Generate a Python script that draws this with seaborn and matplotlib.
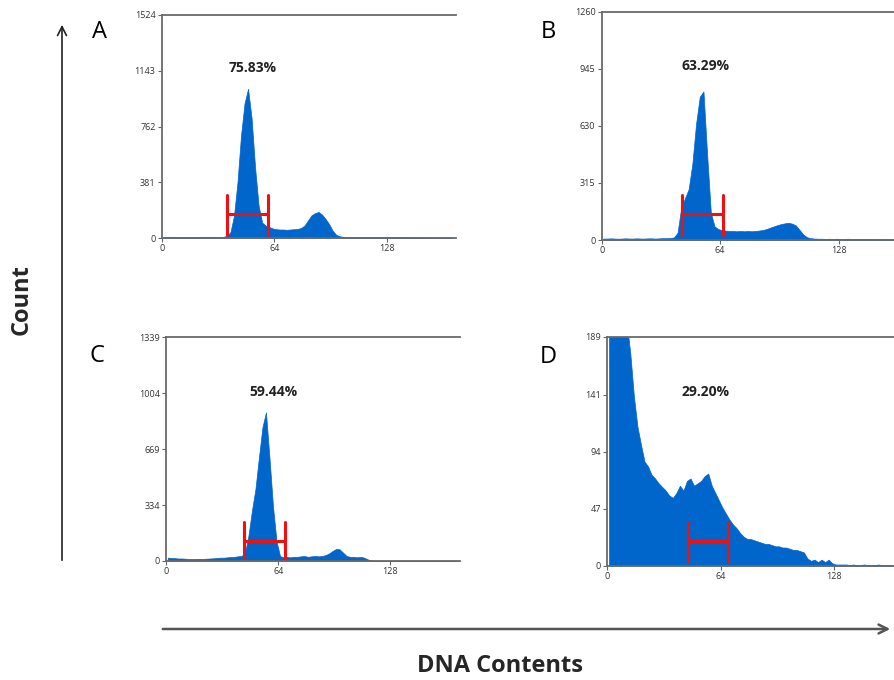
import numpy as np
import pandas as pd
import seaborn as sns
import matplotlib
matplotlib.use('Agg')
import matplotlib.pyplot as plt
from matplotlib.patches import FancyArrowPatch

# Histogram counts per 2-channel bin (bin 0-2, 2-4, ...)
counts_a = [6, 5, 7, 6, 5, 6, 7, 5, 6, 6, 5, 7, 6, 6, 7, 6, 8,
            8, 15, 40, 150, 380, 700, 920, 1020, 820, 480, 220, 105, 85, 75, 65, 60,
            58, 58, 56, 58, 60, 62, 68, 85, 120, 155, 170, 178, 160, 130, 95, 50, 22, 12, 8,
            7, 6, 5, 6, 7, 5, 6, 6, 5, 6, 7, 6, 5, 6, 5, 6, 6, 5, 4, 5, 4, 3, 4, 3, 3, 2,
            3, 2, 2, 2, 2]
counts_b = [8, 8, 9, 8, 7, 8, 9, 8, 8, 9, 8, 8, 9, 9, 8, 9, 10, 10, 11, 14,
            40, 180, 230, 280, 420, 640, 790, 820, 470, 150, 75, 60, 55,
            52, 50, 50, 48, 50, 48, 50, 48, 50, 52,
            55, 60, 68, 75, 82, 88, 92, 95, 90, 80, 55, 30, 15, 10,
            8, 7, 7, 6, 7, 6, 7, 6, 6, 7, 6, 5, 6, 5, 6, 5, 5, 4, 5, 4, 4, 4, 4]
counts_c = [20, 18, 17, 15, 15, 14, 12, 12, 12, 13, 12, 14, 15, 16, 18, 20, 20, 22, 24, 25, 28, 30,
            45, 150, 300, 430, 620, 800, 890, 620, 330, 120, 30,
            22, 24, 22, 25, 25, 28, 30, 25, 28, 30, 28, 30, 35, 45, 60, 72, 70, 50, 30, 25,
            25, 22, 25, 20, 10, 3,
            1, 0, 1, 0, 0, 1, 0, 0, 0, 1, 0, 0, 0, 0, 0, 0, 0, 0, 0, 0, 0, 0, 0, 0, 0]
counts_d = [280, 270, 255, 240, 225, 200, 175, 140, 115, 100, 86, 82, 75, 72, 68, 65, 62, 58, 56, 60,
            66, 62, 70, 72, 66, 68, 70, 74, 76, 66, 60, 54, 48, 43, 38, 34, 31, 27, 24, 22,
            22, 21, 20, 19, 18, 18, 17, 16, 16, 15, 15, 14, 13, 13, 12, 11, 6, 4, 5, 3, 5,
            3, 5, 2, 1, 1, 1, 1, 0.5, 1, 0.5, 0.5, 1, 0.5, 0.5, 0.5, 1, 0.5, 0.5, 0.5, 0.5]

percent_labels = ["75.83%", "63.29%", "59.44%", "29.20%"]
panel_letters = ["A", "B", "C", "D"]
y_tick_values = [[0, 381, 762, 1143, 1524],
                 [0, 315, 630, 945, 1260],
                 [0, 334, 669, 1004, 1339],
                 [0, 47, 94, 141, 189]]
x_tick_values = [0, 64, 128]
x_max = [167, 158, 167.4, 161.9]

# M1 gate: left, right, bar height, tick bottom, tick top
gate_lo = [36.9, 43.3, 44.7, 45.3]
gate_hi = [60.5, 65.3, 68.0, 67.9]
gate_y = [164, 142, 120, 20.4]
gate_bottom = [20, 27, 0, 3.3]
gate_top = [293, 248, 235, 36.3]

BLUE = "#0066CC"
RED = "#F01010"

sns.set_style("white")
plt.rcParams['font.family'] = ['Open Sans', 'DejaVu Sans']

fig = plt.figure(figsize=(8.94, 6.8), dpi=100)
W, H = 894, 680

# axes boxes in pixels: left, top, right, bottom
boxes = [(161.7, 15, 456, 238),
         (601.7, 11.7, 894, 240),
         (166, 337.3, 459.5, 561),
         (607.3, 336.7, 894, 565.7)]
text_pos = [(0.31, 0.762), (0.356, 0.762), (0.365, 0.757), (0.343, 0.76)]
letter_pos = [(99, 32), (548, 32), (97, 356), (548, 357)]

all_counts = [counts_a, counts_b, counts_c, counts_d]

for i, counts in enumerate(all_counts):
    l, t, r, b = boxes[i]
    ax = fig.add_axes([l / W, 1 - b / H, (r - l) / W, (b - t) / H])
    n = len(counts)
    df = pd.DataFrame({"channel": np.arange(n) * 2 + 1, "count": counts})
    sns.histplot(data=df, x="channel", weights="count", binwidth=2, binrange=(0, 2 * n),
                 element="poly", fill=True, color=BLUE, alpha=1,
                 linewidth=0.5, edgecolor=BLUE, ax=ax)
    ax.set_xlim(0, x_max[i])
    ax.set_ylim(0, y_tick_values[i][-1])
    ax.set_xticks(x_tick_values)
    ax.set_yticks(y_tick_values[i])
    ax.set_xlabel("")
    ax.set_ylabel("")
    ax.tick_params(bottom=True, left=True, direction="out", length=3, width=0.8,
                   colors="#666666", labelsize=6.5, labelcolor="#333333", pad=1.5)
    for side in ["top", "left", "bottom"]:
        ax.spines[side].set_visible(True)
        ax.spines[side].set_color("#6a6a6a")
        ax.spines[side].set_linewidth(1.3)
    ax.spines["right"].set_visible(False)

    # gate marker
    ax.plot([gate_lo[i], gate_hi[i]], [gate_y[i], gate_y[i]], color=RED, lw=2.2)
    ax.plot([gate_lo[i], gate_lo[i]], [gate_bottom[i], gate_top[i]], color=RED, lw=2.2)
    ax.plot([gate_hi[i], gate_hi[i]], [gate_bottom[i], gate_top[i]], color=RED, lw=2.2)

    ax.text(text_pos[i][0], text_pos[i][1], percent_labels[i], transform=ax.transAxes,
            ha="center", va="center", fontsize=10, fontweight="bold", color="#222222")
    fig.text(letter_pos[i][0] / W, 1 - letter_pos[i][1] / H, panel_letters[i],
             ha="center", va="center", fontsize=17, color="black")

# big axis arrows
fig.add_artist(FancyArrowPatch((62 / W, 1 - 563 / H), (62 / W, 1 - 22 / H),
                               transform=fig.transFigure, arrowstyle="->",
                               mutation_scale=16, lw=1.2, color="#222222"))
fig.add_artist(FancyArrowPatch((160 / W, 1 - 629 / H), (893 / W, 1 - 629 / H),
                               transform=fig.transFigure, arrowstyle="->",
                               mutation_scale=16, lw=1.8, color="#555555"))

fig.text(22 / W, 1 - 300 / H, "Count", rotation=90, ha="center", va="center",
         fontsize=17, fontweight="bold")
fig.text(500 / W, 1 - 666 / H, "DNA Contents", ha="center", va="center",
         fontsize=17, fontweight="bold")

fig.savefig("out.png", dpi=100)
